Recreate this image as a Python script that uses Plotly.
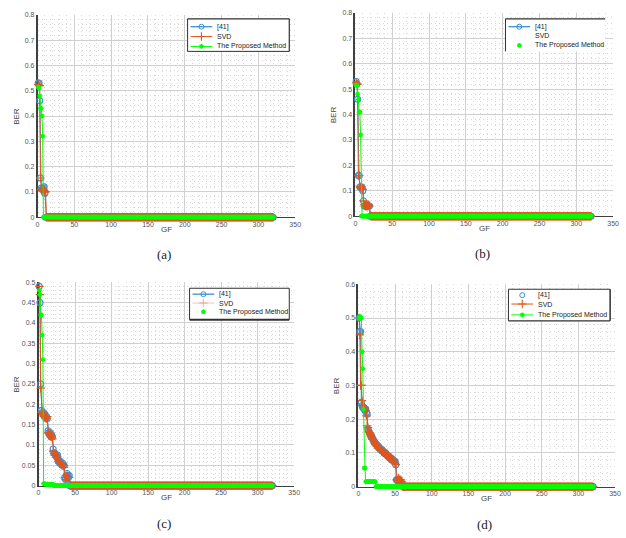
import plotly.graph_objects as go

W, H = 626, 538

# ---------------- data ----------------
GF = list(range(1, 321))

a_ref41 = [0.53, 0.53, 0.46, 0.155, 0.115, 0.11, 0.11, 0.115, 0.12, 0.095]
a_svd = [0.525, 0.52, 0.52, 0.155, 0.11, 0.105, 0.11, 0.11, 0.105, 0.10, 0.10]
a_prop = [0.515, 0.51, 0.48, 0.43, 0.43, 0.40, 0.32]

b_ref41 = [0.53, 0.52, 0.46, 0.16, 0.16, 0.115, 0.115, 0.11, 0.115, 0.10,
           0.06, 0.04, 0.04, 0.04, 0.045, 0.04, 0.04, 0.04, 0.04]
b_svd = [0.525, 0.52, 0.52, 0.16, 0.16, 0.115, 0.115, 0.115, 0.11, 0.105,
         0.06, 0.045, 0.04, 0.04, 0.04, 0.04, 0.04, 0.045, 0.04, 0.005]
b_prop = [0.515, 0.515, 0.48, 0.46, 0.41, 0.41, 0.32]

c_ref41 = [0.49, 0.45, 0.25, 0.185, 0.18, 0.175, 0.18, 0.17, 0.175, 0.165,
           0.17, 0.165, 0.135, 0.13, 0.125, 0.13, 0.12, 0.125, 0.12, 0.09,
           0.08, 0.08, 0.075, 0.075, 0.07, 0.075, 0.06, 0.06, 0.055, 0.06,
           0.055, 0.05, 0.055, 0.05, 0.05, 0.02, 0.015, 0.025, 0.03, 0.025,
           0.02, 0.025]
c_svd = [0.49, 0.47, 0.24, 0.18, 0.18, 0.175, 0.175, 0.17, 0.17, 0.17,
         0.165, 0.17, 0.13, 0.13, 0.125, 0.125, 0.12, 0.12, 0.115, 0.085,
         0.08, 0.075, 0.075, 0.075, 0.07, 0.07, 0.06, 0.06, 0.055, 0.055,
         0.055, 0.05, 0.05, 0.05, 0.045, 0.02, 0.015, 0.02, 0.025, 0.02,
         0.02, 0.02]
c_prop = [0.48, 0.47, 0.42, 0.42, 0.37, 0.31, 0.005, 0.005, 0.004, 0.003,
          0.003, 0.003, 0.003, 0.003, 0.003, 0.003, 0.003, 0.003, 0.003, 0.003]

d_ref41 = [0.5, 0.46, 0.46, 0.25, 0.24, 0.235, 0.235, 0.23, 0.225, 0.23,
           0.22, 0.215, 0.17, 0.165, 0.16, 0.155, 0.15, 0.15, 0.145, 0.14,
           0.135, 0.13, 0.13, 0.125, 0.125, 0.12, 0.12, 0.115, 0.115, 0.11,
           0.11, 0.11, 0.105, 0.105, 0.1, 0.1, 0.1, 0.095, 0.095, 0.09,
           0.09, 0.09, 0.085, 0.085, 0.08, 0.08, 0.08, 0.075, 0.075, 0.075,
           0.065, 0.02, 0.02, 0.015, 0.02, 0.015, 0.01, 0.01, 0.01, 0.005]
d_svd = [0.5, 0.45, 0.3, 0.3, 0.255, 0.24, 0.235, 0.235, 0.23, 0.225,
         0.21, 0.18, 0.175, 0.165, 0.16, 0.155, 0.15, 0.145, 0.14, 0.14,
         0.135, 0.13, 0.125, 0.125, 0.12, 0.12, 0.115, 0.115, 0.11, 0.11,
         0.11, 0.105, 0.105, 0.1, 0.1, 0.1, 0.095, 0.095, 0.09, 0.09,
         0.09, 0.085, 0.085, 0.085, 0.08, 0.08, 0.08, 0.08, 0.075, 0.07,
         0.065, 0.02, 0.02, 0.02, 0.025, 0.02, 0.02, 0.02, 0.015, 0.0]
d_prop = [0.5, 0.505, 0.5, 0.5, 0.4, 0.35, 0.23, 0.055, 0.055, 0.015,
          0.015, 0.015, 0.015, 0.015, 0.015, 0.015, 0.015, 0.015, 0.015, 0.015,
          0.015, 0.015, 0.015]

series_names = ["[41]", "SVD", "The Proposed Method"]
captions = ["(a)", "(b)", "(c)", "(d)"]
axis_title_x = "GF"
axis_title_y = "BER"


def pad(head):
    return head + [0.0] * (len(GF) - len(head))


panel_data = {
    "a": [a_ref41, a_svd, a_prop],
    "b": [b_ref41, b_svd, b_prop],
    "c": [c_ref41, c_svd, c_prop],
    "d": [d_ref41, d_svd, d_prop],
}
y_max = {"a": 0.8, "b": 0.8, "c": 0.5, "d": 0.6}
y_major = {"a": 0.1, "b": 0.1, "c": 0.05, "d": 0.1}
y_minor = {"a": 0.02, "b": 0.02, "c": 0.01, "d": 0.02}

# ---------------- layout geometry (pixels) ----------------
boxes = {  # left, right, top, bottom of plot area
    "a": (36, 297, 11, 216),
    "b": (358, 619, 9, 215),
    "c": (37, 296, 282, 488),
    "d": (361, 621, 284, 489),
}
legend_boxes = {  # left, right, top, bottom
    "a": (188, 291, 15, 48),
    "b": (510, 611, 15, 48),
    "c": (190, 291, 288, 320),
    "d": (513, 616, 289, 321),
}
# legend borders: top, right, bottom, left (line widths, 0 = none)
legend_borders = {
    "a": (1.2, 1.2, 1, 1),
    "b": (1.2, 0, 0, 1),
    "c": (1, 1, 2, 1),
    "d": (1.2, 1.5, 1.2, 1),
}
legend_rows = {"a": (8, 18, 28), "b": (8, 17, 27), "c": (6, 15, 24), "d": (6, 15, 26)}
legend_line_on = {"a": (1, 1, 1), "b": (1, 0, 0), "c": (1, 0.35, 0), "d": (0, 1, 1)}
legend_marker_on = {"a": (1, 1, 1), "b": (1, 0, 1), "c": (1, 0.4, 1), "d": (1, 1, 1)}

colors = ["#3d8fd1", "#e0561d", "#00ff00"]
marker_styles = [
    dict(symbol="circle-open", size=6, color=colors[0], line=dict(width=1.1)),
    dict(symbol="cross-thin-open", size=6, color=colors[1], line=dict(width=1.2, color=colors[1])),
    dict(symbol="asterisk-open", size=4, color=colors[2], line=dict(width=1.3, color=colors[2])),
]
legend_marker_styles = [
    dict(symbol="circle-open", size=5, color=colors[0], line=dict(width=1)),
    dict(symbol="cross-thin-open", size=6, color=colors[1], line=dict(width=1.1, color=colors[1])),
    dict(symbol="asterisk-open", size=4, color=colors[2], line=dict(width=1.3, color=colors[2])),
]

fig = go.Figure()
layout = {}
annotations = []
shapes = []
font_fam = "Liberation Sans"

for i, key in enumerate(["a", "b", "c", "d"]):
    ax = "" if i == 0 else str(i + 1)
    l, r, t, b = boxes[key]
    ys = panel_data[key]
    for k, (name, yv) in enumerate(zip(series_names, ys)):
        fig.add_trace(go.Scatter(
            x=GF, y=pad(yv), name=name, xaxis="x" + ax, yaxis="y" + ax,
            mode="lines+markers", line=dict(color=colors[k], width=1),
            marker=marker_styles[k], cliponaxis=False, showlegend=False,
        ))
    grid = "#d0d0d0"
    minor_grid = dict(showgrid=True, gridcolor="#d9d9d9", griddash="1px,3px", gridwidth=1)
    layout["xaxis" + ax] = dict(
        domain=[l / W, r / W], anchor="y" + ax, range=[0, 350], dtick=50,
        showgrid=True, gridcolor=grid, gridwidth=1, zeroline=False,
        showline=True, linecolor="#404040", linewidth=1, ticks="",
        tickfont=dict(size=7, color="#555555", family=font_fam),
        minor=dict(dtick=10, **minor_grid), layer="below traces",
    )
    layout["yaxis" + ax] = dict(
        domain=[1 - b / H, 1 - t / H], anchor="x" + ax, range=[0, y_max[key]], dtick=y_major[key],
        showgrid=True, gridcolor=grid, gridwidth=1, zeroline=False,
        showline=True, linecolor="#404040", linewidth=1.5, ticks="",
        tickfont=dict(size=7, color="#555555", family=font_fam),
        minor=dict(dtick=y_minor[key], **minor_grid), layer="below traces",
    )
    cx = (l + r) / 2
    annotations.append(dict(text=axis_title_x, x=cx, y=b + 12, xref="x5", yref="y5",
                            showarrow=False, font=dict(size=8, color="#444444", family=font_fam),
                            xanchor="center", yanchor="middle"))
    annotations.append(dict(text=axis_title_y, x=l - 22, y=(t + b) / 2, xref="x5", yref="y5",
                            showarrow=False, textangle=-90,
                            font=dict(size=8, color="#444444", family=font_fam),
                            xanchor="center", yanchor="middle"))
    annotations.append(dict(text=captions[i], x=cx - 2, y=b + 38, xref="x5", yref="y5",
                            showarrow=False, font=dict(size=13, color="#222222", family="Liberation Serif"),
                            xanchor="center", yanchor="middle"))

    # ---- legend (drawn manually to match compact MATLAB legend) ----
    ll, lr, lt, lb = legend_boxes[key]
    shapes.append(dict(type="rect", xref="x5", yref="y5", x0=ll, x1=lr, y0=lt, y1=lb,
                       fillcolor="white", line=dict(width=0), layer="below"))
    bt, br, bb, bl = legend_borders[key]
    for w_, (x0, y0, x1, y1) in zip((bt, br, bb, bl),
                                    ((ll, lt, lr, lt), (lr, lt, lr, lb), (ll, lb, lr, lb), (ll, lt, ll, lb))):
        if w_:
            shapes.append(dict(type="line", xref="x5", yref="y5", x0=x0, y0=y0, x1=x1, y1=y1,
                               line=dict(color="#303030", width=w_), layer="below"))
    for k, name in enumerate(series_names):
        ry = lt + legend_rows[key][k]
        lo = legend_line_on[key][k]
        if lo:
            shapes.append(dict(type="line", xref="x5", yref="y5", x0=ll + 3, x1=ll + 25, y0=ry, y1=ry,
                               line=dict(color=colors[k], width=1 if k else 1.3), opacity=lo, layer="below"))
        mo = legend_marker_on[key][k]
        if mo:
            fig.add_trace(go.Scatter(x=[ll + 14], y=[ry], xaxis="x5", yaxis="y5", mode="markers",
                                     marker=legend_marker_styles[k], opacity=mo, showlegend=False,
                                     hoverinfo="skip", cliponaxis=False))
        annotations.append(dict(text=name, x=ll + 28, y=ry, xref="x5", yref="y5", showarrow=False,
                                xanchor="left", yanchor="middle",
                                font=dict(size=7, color="#222222", family=font_fam)))

# overlay pixel-space axes used for legend and labels
layout["xaxis5"] = dict(domain=[0, 1], range=[0, W], visible=False, fixedrange=True, anchor="y5")
layout["yaxis5"] = dict(domain=[0, 1], range=[H, 0], visible=False, fixedrange=True, anchor="x5")

fig.update_layout(
    width=W, height=H, margin=dict(l=0, r=0, t=0, b=0),
    paper_bgcolor="white", plot_bgcolor="rgba(0,0,0,0)",
    annotations=annotations, shapes=shapes, showlegend=False, **layout,
)
fig.write_html("out.html")
